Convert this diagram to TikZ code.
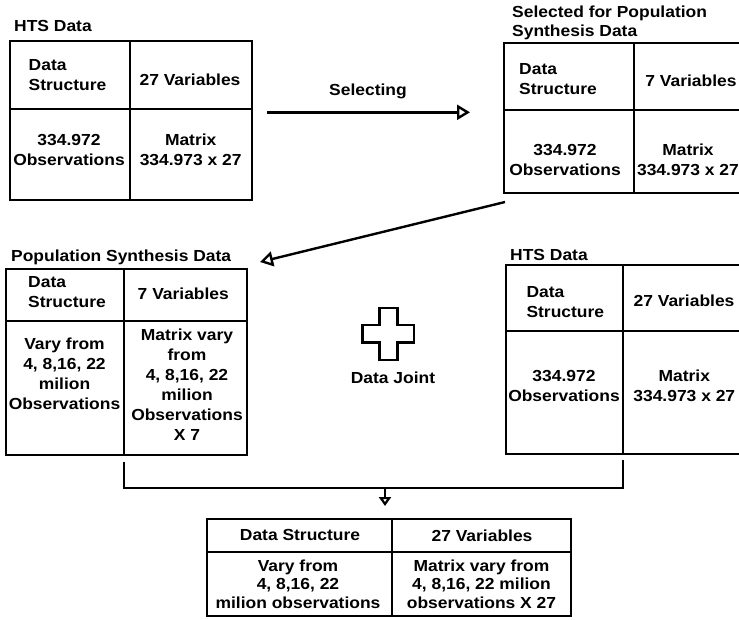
\documentclass[tikz,border=0pt]{standalone}
\usepackage{fontspec}
\setmainfont{Liberation Sans}[FakeStretch=1.09]
\usetikzlibrary{arrows.meta,fit}
\newcommand\ftext{\fontsize{16}{20}\selectfont\bfseries}
\newcommand\ftextE{\fontsize{16}{18.3}\selectfont\bfseries}
\tikzset{
  tbl/.style={draw, line width=2.8pt, inner sep=0pt},
  tline/.style={line width=2.8pt},
  txt/.style={inner sep=0pt, align=center, font=\ftext},
  txtl/.style={inner sep=0pt, align=left, font=\ftext},
  txte/.style={inner sep=0pt, align=center, font=\ftextE},
  ttl/.style={inner sep=0pt, anchor=base west, font=\ftext},
  conn/.style={line width=2.4pt},
  bigarrow/.style={conn, -{Triangle[open, length=13pt, width=15pt, line width=2.4pt]}},
  smallarrow/.style={line width=2.2pt, -{Triangle[open, length=9pt, width=12pt, line width=2.2pt]}},
}
\begin{document}
\begin{tikzpicture}[x=1pt, y=-1pt]
\useasboundingbox (0,0) rectangle (739,619);

% ---------- Table A (top-left) ----------
\node[ttl] (tA) at (14,31.7) {HTS Data};
\node[tbl, fit={(10,41) (252,200)}] (A) {};
\draw[tline] (130,41) -- (130,200);
\draw[tline] (10,109) -- (252,109);
\node[txtl] (a1) at (67.5,75) {Data\\Structure};
\node[txt] (a2) at (190,80.2) {27 Variables};
\node[txt] (a3) at (69,150.2) {334.972\\Observations};
\node[txt] (a4) at (190.7,150.2) {Matrix\\334.973 x 27};

% ---------- Table B (top-right) ----------
\node[ttl] (tB1) at (512,17.5) {Selected for Population};
\node[ttl] (tB2) at (512,36) {Synthesis Data};
\node[tbl, fit={(504,43) (748,193)}] (B) {};
\draw[tline] (634,43) -- (634,193);
\draw[tline] (504,110) -- (748,110);
\node[txtl] (b1) at (558,79.2) {Data\\Structure};
\node[txt] (b2) at (691,81.2) {7 Variables};
\node[txt] (b3) at (565,160.2) {334.972\\Observations};
\node[txt] (b4) at (688,160.2) {Matrix\\334.973 x 27};

% ---------- Table C (middle-left) ----------
\node[ttl] (tC) at (11,261.5) {Population Synthesis Data};
\node[tbl, fit={(6,269) (247,455)}] (C) {};
\draw[tline] (124,269) -- (124,455);
\draw[tline] (6,321) -- (247,321);
\node[txtl] (c1) at (67,292.5) {Data\\Structure};
\node[txt] (c2) at (183.3,293.5) {7 Variables};
\node[txt] (c3) at (64.5,374.2) {Vary from\\4, 8,16, 22\\milion\\Observations};
\node[txt] (c4) at (187,384.2) {Matrix vary\\from\\4, 8,16, 22\\milion\\Observations\\X 7};

% ---------- Table D (middle-right) ----------
\node[ttl] (tD) at (510,260) {HTS Data};
\node[tbl, fit={(506,265) (748,454)}] (D) {};
\draw[tline] (623,265) -- (623,454);
\draw[tline] (506,331) -- (748,331);
\node[txtl] (d1) at (565.3,302.5) {Data\\Structure};
\node[txt] (d2) at (684,300.8) {27 Variables};
\node[txt] (d3) at (564,386.2) {334.972\\Observations};
\node[txt] (d4) at (684.3,386.2) {Matrix\\334.973 x 27};

% ---------- Table E (bottom) ----------
\node[tbl, fit={(207,519) (571,616)}] (E) {};
\draw[tline] (392,519) -- (392,616);
\draw[tline] (207,552) -- (571,552);
\node[txt] (e1) at (300,535.4) {Data Structure};
\node[txt] (e2) at (482,535.4) {27 Variables};
\node[txte] (e3) at (298,584.2) {Vary from\\4, 8,16, 22\\milion observations};
\node[txte] (e4) at (481.5,584.2) {Matrix vary from\\4, 8,16, 22 milion\\observations X 27};

% ---------- Plus sign ----------
\draw[line width=2.5pt] (379.3,308) -- (397.3,308) -- (397.3,325) -- (414,325)
  -- (414,342.7) -- (397.3,342.7) -- (397.3,360) -- (379.3,360) -- (379.3,342.7)
  -- (362.7,342.7) -- (362.7,325) -- (379.3,325) -- cycle;
\node[txt, anchor=base] (dj) at (393,383) {Data Joint};

% ---------- Connectors ----------
\node[txt, anchor=base] (sel) at (368,95.7) {Selecting};
\coordinate (s1) at (267,112.3);
\coordinate (s2) at (470,112.3);
\draw[bigarrow] (s1) -- (s2);

\coordinate (g1) at (505,202);
\coordinate (g2) at (260,262);
\draw[bigarrow] (g1) -- (g2);

\coordinate (jl) at (124,462);
\coordinate (jr) at (623,460);
\coordinate (jm) at (385,488);
\coordinate (je) at (385,506);
\draw[line width=2.6pt] (jl) -- (124,488) -- (623,488) -- (jr);
\draw[smallarrow] (jm) -- (je);
\end{tikzpicture}
\end{document}
